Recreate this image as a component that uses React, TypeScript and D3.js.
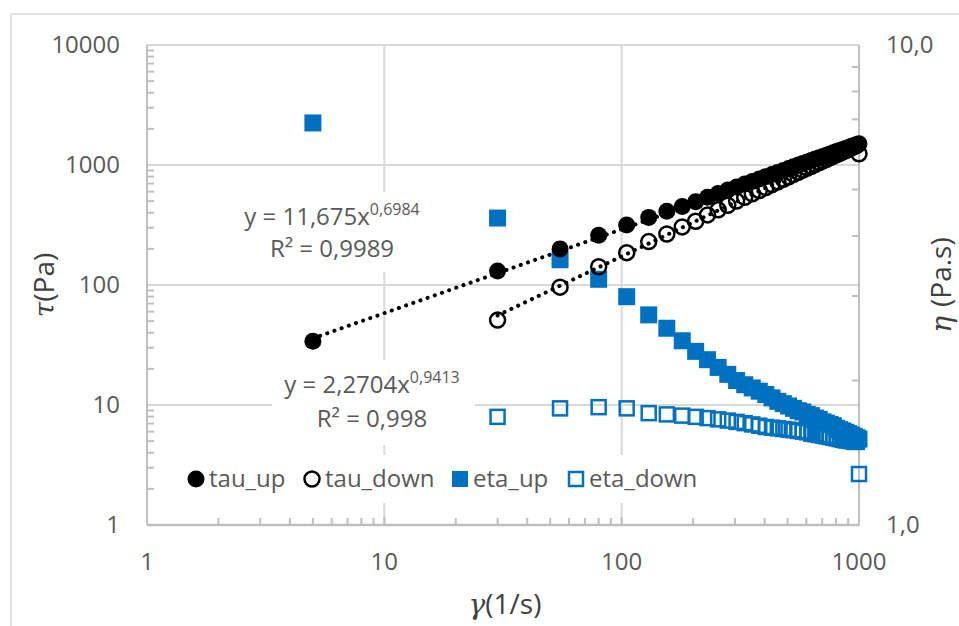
import { useEffect, useRef } from "react";
import * as d3 from "d3";

// shear rate (1/s)
const gammaUp = [5, 30, 55, 80, 105, 130, 155, 180, 205, 230, 255, 280, 305, 330, 355, 380, 405, 430, 455, 480, 505, 530, 555, 580, 605, 630, 655, 680, 705, 730, 755, 780, 805, 830, 855, 880, 905, 930, 955, 980, 1000];
const gammaDown = [30, 55, 80, 105, 130, 155, 180, 205, 230, 255, 280, 305, 330, 355, 380, 405, 430, 455, 480, 505, 530, 555, 580, 605, 630, 655, 680, 705, 730, 755, 780, 805, 830, 855, 880, 905, 930, 955, 980, 1000];

// shear stress (Pa)
const tauUp = [34, 131, 200, 260, 316, 366, 412, 450, 494, 539, 579, 619, 656, 693, 730, 765, 800, 834, 868, 901, 934, 966, 998, 1029, 1059, 1090, 1120, 1149, 1179, 1208, 1236, 1265, 1293, 1320, 1348, 1375, 1402, 1430, 1456, 1483, 1500];
const tauDown = [51, 96, 142, 186, 230, 266, 305, 340, 384, 423, 462, 500, 538, 575, 612, 648, 686, 723, 761, 798, 835, 871, 908, 944, 977, 1012, 1047, 1082, 1117, 1151, 1186, 1220, 1253, 1287, 1320, 1357, 1390, 1423, 1460, 1240];

// viscosity (Pa.s)
const etaUp = [6.88, 4.36, 3.57, 3.25, 2.99, 2.74, 2.57, 2.42, 2.3, 2.21, 2.13, 2.06, 2.0, 1.96, 1.93, 1.9, 1.87, 1.84, 1.81, 1.79, 1.77, 1.75, 1.73, 1.72, 1.7, 1.69, 1.67, 1.66, 1.64, 1.63, 1.62, 1.61, 1.59, 1.58, 1.57, 1.56, 1.55, 1.54, 1.53, 1.52, 1.51];
const etaDown = [1.68, 1.75, 1.76, 1.75, 1.71, 1.7, 1.69, 1.68, 1.67, 1.66, 1.65, 1.64, 1.63, 1.62, 1.61, 1.6, 1.595, 1.59, 1.585, 1.58, 1.575, 1.57, 1.565, 1.56, 1.55, 1.545, 1.54, 1.535, 1.53, 1.525, 1.52, 1.515, 1.51, 1.505, 1.5, 1.5, 1.495, 1.49, 1.49, 1.277];

const xTicks = [1, 10, 100, 1000];
const xTickLabels = ["1", "10", "100", "1000"];
const yLeftTicks = [1, 10, 100, 1000, 10000];
const yLeftTickLabels = ["1", "10", "100", "1000", "10000"];
const yRightTicks = [1, 10];
const yRightTickLabels = ["1,0", "10,0"];

const seriesNames = ["tau_up", "tau_down", "eta_up", "eta_down"];

// power-law trendlines shown on the chart
const fitUp = { a: 11.675, b: 0.6984, from: 5, to: 1000, eq: "y = 11,675x", exp: "0,6984", r2: "R² = 0,9989" };
const fitDown = { a: 2.2704, b: 0.9413, from: 30, to: 1000, eq: "y = 2,2704x", exp: "0,9413", r2: "R² = 0,998" };

const BLUE = "#0070C0";
const GRID = "#d9d9d9";
const TXT = "#595959";
const FONT = "'Open Sans', sans-serif";

const App = () => {
  const ref = useRef<SVGSVGElement>(null);

  useEffect(() => {
    if (!ref.current) return;
    const svg = d3.select(ref.current);
    svg.selectAll("*").remove();

    const left = 147, right = 859, top = 45, bottom = 525;

    const x = d3.scaleLog().domain([1, 1000]).range([left, right]);
    const yL = d3.scaleLog().domain([1, 10000]).range([bottom, top]);
    const yR = d3.scaleLog().domain([1, 10]).range([bottom, top]);

    svg.append("rect").attr("width", 959).attr("height", 626).attr("fill", "#fff");
    // chart border
    svg.append("rect").attr("x", 11).attr("y", 14).attr("width", 960).attr("height", 630)
      .attr("fill", "none").attr("stroke", GRID).attr("stroke-width", 1.5);

    // gridlines
    const grid = svg.append("g").attr("stroke", GRID).attr("stroke-width", 2);
    yLeftTicks.slice(1).forEach((t) => {
      grid.append("line").attr("x1", left).attr("x2", right).attr("y1", yL(t)).attr("y2", yL(t));
    });
    xTicks.slice(1, -1).forEach((t) => {
      grid.append("line").attr("x1", x(t)).attr("x2", x(t)).attr("y1", top).attr("y2", bottom);
    });

    // minor ticks (inside)
    const axisG = svg.append("g").attr("stroke", "#bfbfbf").attr("stroke-width", 2);
    for (let d = 0; d < 4; d++) {
      for (let m = 2; m <= 9; m++) {
        const v = m * Math.pow(10, d);
        axisG.append("line").attr("x1", left).attr("x2", left + 7).attr("y1", yL(v)).attr("y2", yL(v));
      }
    }
    for (let d = 0; d < 3; d++) {
      for (let m = 2; m <= 9; m++) {
        const v = m * Math.pow(10, d);
        axisG.append("line").attr("x1", x(v)).attr("x2", x(v)).attr("y1", bottom).attr("y2", bottom - 7);
      }
    }
    for (let m = 2; m <= 9; m++) {
      axisG.append("line").attr("x1", right).attr("x2", right - 7).attr("y1", yR(m)).attr("y2", yR(m));
    }
    xTicks.forEach((t) => {
      axisG.append("line").attr("x1", x(t)).attr("x2", x(t)).attr("y1", bottom).attr("y2", bottom - 8);
    });
    axisG.append("line").attr("x1", left).attr("x2", left).attr("y1", top).attr("y2", bottom);
    axisG.append("line").attr("x1", right).attr("x2", right).attr("y1", top).attr("y2", bottom);
    axisG.append("line").attr("x1", left).attr("x2", right).attr("y1", bottom).attr("y2", bottom).attr("stroke-width", 2.5);

    // tick labels
    const lab = svg.append("g").attr("font-family", FONT).attr("font-size", 24).attr("fill", TXT);
    yLeftTicks.forEach((t, i) => {
      lab.append("text").attr("x", 120).attr("y", yL(t) + 8).attr("text-anchor", "end").text(yLeftTickLabels[i]);
    });
    xTicks.forEach((t, i) => {
      lab.append("text").attr("x", x(t)).attr("y", 570).attr("text-anchor", "middle").text(xTickLabels[i]);
    });
    yRightTicks.forEach((t, i) => {
      lab.append("text").attr("x", 886).attr("y", yR(t) + 8).attr("text-anchor", "start").text(yRightTickLabels[i]);
    });

    // axis titles
    const titleL = svg.append("text").attr("transform", `translate(54,285) rotate(-90)`)
      .attr("text-anchor", "middle").attr("fill", "#404040").attr("font-size", 28).attr("font-family", FONT);
    titleL.append("tspan").attr("font-family", "'DejaVu Serif', serif").attr("font-style", "italic").text("τ");
    titleL.append("tspan").text("(Pa)");

    const titleR = svg.append("text").attr("transform", `translate(951,285) rotate(-90)`)
      .attr("text-anchor", "middle").attr("fill", "#404040").attr("font-size", 28).attr("font-family", FONT);
    titleR.append("tspan").attr("font-family", "'DejaVu Serif', serif").attr("font-style", "italic").text("η ");
    titleR.append("tspan").text("(Pa.s)");

    const titleB = svg.append("text").attr("x", 505).attr("y", 614)
      .attr("text-anchor", "middle").attr("fill", "#404040").attr("font-size", 28).attr("font-family", FONT);
    titleB.append("tspan").attr("font-family", "'DejaVu Serif', serif").attr("font-style", "italic").text("γ");
    titleB.append("tspan").text("(1/s)");

    // white boxes behind labels and legend
    svg.append("rect").attr("x", 232).attr("y", 192).attr("width", 203).attr("height", 80).attr("fill", "#fff");
    svg.append("rect").attr("x", 272).attr("y", 360).attr("width", 203).attr("height", 85).attr("fill", "#fff");
    svg.append("rect").attr("x", 180).attr("y", 455).attr("width", 535).attr("height", 48).attr("fill", "#fff");

    // eta series (right axis)
    svg.append("g").selectAll("rect").data(gammaDown).join("rect")
      .attr("x", (d) => x(d) - 7).attr("y", (d, i) => yR(etaDown[i]) - 7)
      .attr("width", 14).attr("height", 14)
      .attr("fill", "none").attr("stroke", BLUE).attr("stroke-width", 2.5);
    svg.append("g").selectAll("rect").data(gammaUp).join("rect")
      .attr("x", (d) => x(d) - 8.5).attr("y", (d, i) => yR(etaUp[i]) - 8.5)
      .attr("width", 17).attr("height", 17).attr("fill", BLUE);

    // tau series (left axis)
    svg.append("g").selectAll("circle").data(gammaDown).join("circle")
      .attr("cx", (d) => x(d)).attr("cy", (d, i) => yL(tauDown[i])).attr("r", 7.5)
      .attr("fill", "none").attr("stroke", "#000").attr("stroke-width", 2.5);
    svg.append("g").selectAll("circle").data(gammaUp).join("circle")
      .attr("cx", (d) => x(d)).attr("cy", (d, i) => yL(tauUp[i])).attr("r", 8.5)
      .attr("fill", "#000");

    // trendlines
    [fitUp, fitDown].forEach((f) => {
      const pts = [f.from, f.to].map((g) => [x(g), yL(f.a * Math.pow(g, f.b))] as [number, number]);
      svg.append("path").attr("d", d3.line()(pts)!)
        .attr("fill", "none").attr("stroke", "#000").attr("stroke-width", 4)
        .attr("stroke-linecap", "round").attr("stroke-dasharray", "0.1 7.5");
    });

    // trendline labels
    const eqLabel = (f: typeof fitUp, cx: number, y1: number, y2: number) => {
      const t = svg.append("text").attr("x", cx).attr("y", y1).attr("text-anchor", "middle")
        .attr("font-family", FONT).attr("font-size", 24).attr("fill", TXT);
      t.append("tspan").text(f.eq);
      t.append("tspan").attr("font-size", 16).attr("dy", -10).text(f.exp);
      svg.append("text").attr("x", cx).attr("y", y2).attr("text-anchor", "middle")
        .attr("font-family", FONT).attr("font-size", 24).attr("fill", TXT).text(f.r2);
    };
    eqLabel(fitUp, 332, 225, 257);
    eqLabel(fitDown, 372, 393, 427);

    // legend
    const lg = svg.append("g").attr("font-family", FONT).attr("font-size", 24).attr("fill", TXT);
    const legendX = [196, 312, 460, 576];
    seriesNames.forEach((name, i) => {
      const cx = legendX[i];
      const cy = 479;
      if (i === 0) lg.append("circle").attr("cx", cx).attr("cy", cy).attr("r", 8.5).attr("fill", "#000");
      if (i === 1) lg.append("circle").attr("cx", cx).attr("cy", cy).attr("r", 7.5).attr("fill", "none").attr("stroke", "#000").attr("stroke-width", 2.5);
      if (i === 2) lg.append("rect").attr("x", cx - 8).attr("y", cy - 8).attr("width", 16).attr("height", 16).attr("fill", BLUE);
      if (i === 3) lg.append("rect").attr("x", cx - 7).attr("y", cy - 7).attr("width", 14).attr("height", 14).attr("fill", "none").attr("stroke", BLUE).attr("stroke-width", 2.5);
      lg.append("text").attr("x", cx + 13).attr("y", 487).text(name);
    });
  }, []);

  return (
    <svg ref={ref} width={959} height={626}
      style={{ position: "absolute", left: 0, top: 0, display: "block" }} />
  );
};

export default App;
